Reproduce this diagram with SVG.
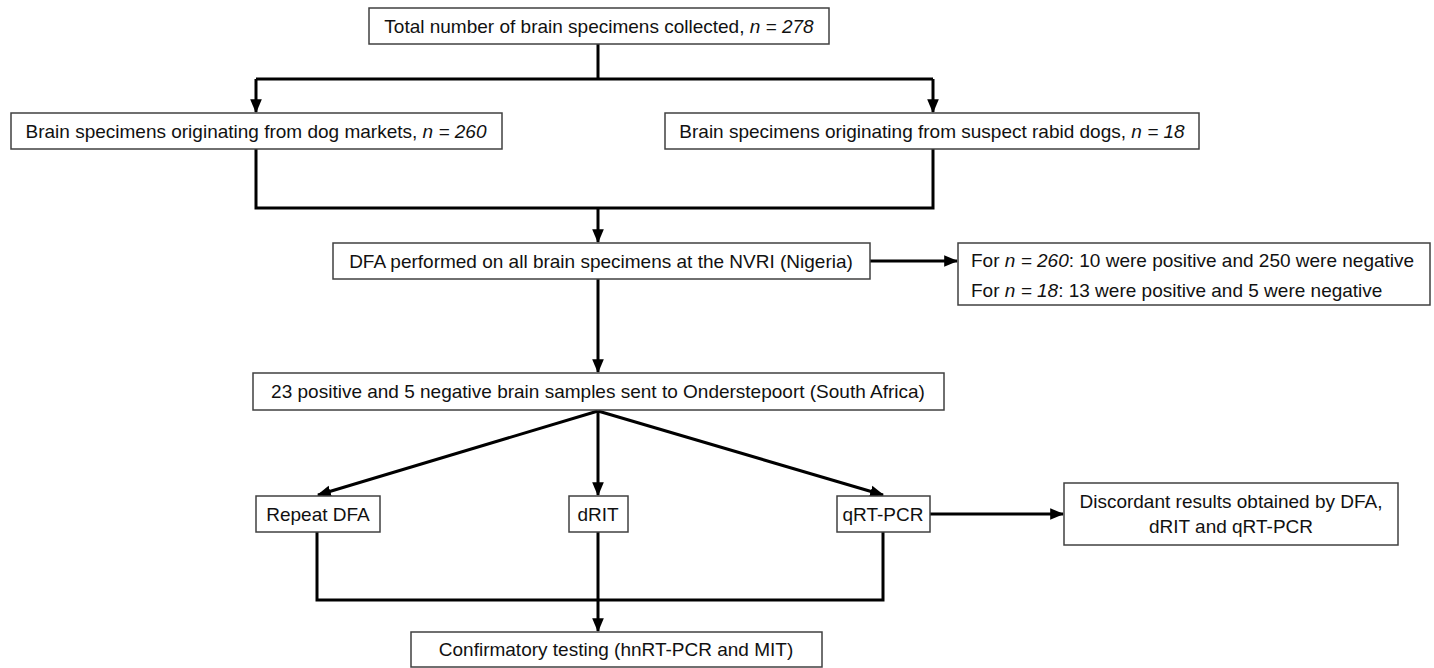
<svg xmlns="http://www.w3.org/2000/svg" width="1434" height="668" viewBox="0 0 1434 668">
<style>
.box{fill:#fff;stroke:#404040;stroke-width:1.5}
.t{font-family:"Liberation Sans",Arial,sans-serif;font-size:19px;fill:#111}
.c{text-anchor:middle}
.ln{fill:none;stroke:#000;stroke-width:3}
</style>
<defs>
<marker id="ah" markerUnits="userSpaceOnUse" markerWidth="14" markerHeight="14" viewBox="0 0 12 12" refX="11" refY="6" orient="auto">
<path d="M0,1 L12,6 L0,11 Z" fill="#000"/>
</marker>
</defs>
<rect width="1434" height="668" fill="#fff"/>
<g id="connectors">
<path class="ln" d="M598,44 V79 M256,79 H933"/>
<path class="ln" d="M256,79 V112" marker-end="url(#ah)"/>
<path class="ln" d="M933,79 V112" marker-end="url(#ah)"/>
<path class="ln" d="M256,149 V208 H933 V149"/>
<path class="ln" d="M598,208 V242" marker-end="url(#ah)"/>
<path class="ln" d="M870,261 H957" marker-end="url(#ah)"/>
<path class="ln" d="M598,279 V372" marker-end="url(#ah)"/>
<path class="ln" d="M598,411 L318,495" marker-end="url(#ah)"/>
<path class="ln" d="M598,411 V495" marker-end="url(#ah)"/>
<path class="ln" d="M598,411 L883,495" marker-end="url(#ah)"/>
<path class="ln" d="M930,514 H1063" marker-end="url(#ah)"/>
<path class="ln" d="M317,532 V600 H883 V532"/>
<path class="ln" d="M598,532 V631" marker-end="url(#ah)"/>
</g>
<g id="total">
<rect class="box" x="369" y="8" width="460" height="36"/>
<text class="t c" x="599" y="33">Total number of brain specimens collected, <tspan font-style="italic">n = 278</tspan></text>
</g>
<g id="markets">
<rect class="box" x="11" y="113" width="491" height="36"/>
<text class="t c" x="256" y="138">Brain specimens originating from dog markets, <tspan font-style="italic">n = 260</tspan></text>
</g>
<g id="suspect">
<rect class="box" x="665" y="113" width="534" height="36"/>
<text class="t c" x="932" y="138">Brain specimens originating from suspect rabid dogs, <tspan font-style="italic">n = 18</tspan></text>
</g>
<g id="dfa">
<rect class="box" x="333" y="243" width="537" height="36"/>
<text class="t c" x="601" y="268">DFA performed on all brain specimens at the NVRI (Nigeria)</text>
</g>
<g id="results">
<rect class="box" x="958" y="243" width="472" height="62"/>
<text class="t" x="971" y="267">For <tspan font-style="italic">n = 260</tspan>: 10 were positive and 250 were negative</text>
<text class="t" x="971" y="297">For <tspan font-style="italic">n = 18</tspan>: 13 were positive and 5 were negative</text>
</g>
<g id="sent">
<rect class="box" x="253" y="373" width="691" height="37"/>
<text class="t c" x="598" y="398">23 positive and 5 negative brain samples sent to Onderstepoort (South Africa)</text>
</g>
<g id="repeat">
<rect class="box" x="256" y="496" width="124" height="36"/>
<text class="t c" x="318" y="521">Repeat DFA</text>
</g>
<g id="drit">
<rect class="box" x="569" y="496" width="59" height="36"/>
<text class="t c" x="598" y="521">dRIT</text>
</g>
<g id="qrt">
<rect class="box" x="837" y="496" width="93" height="36"/>
<text class="t c" x="883" y="521">qRT-PCR</text>
</g>
<g id="discordant">
<rect class="box" x="1064" y="483" width="334" height="62"/>
<text class="t c" x="1231" y="508">Discordant results obtained by DFA,</text>
<text class="t c" x="1231" y="533">dRIT and qRT-PCR</text>
</g>
<g id="confirm">
<rect class="box" x="411" y="632" width="411" height="35"/>
<text class="t c" x="616" y="656">Confirmatory testing (hnRT-PCR and MIT)</text>
</g>
</svg>
